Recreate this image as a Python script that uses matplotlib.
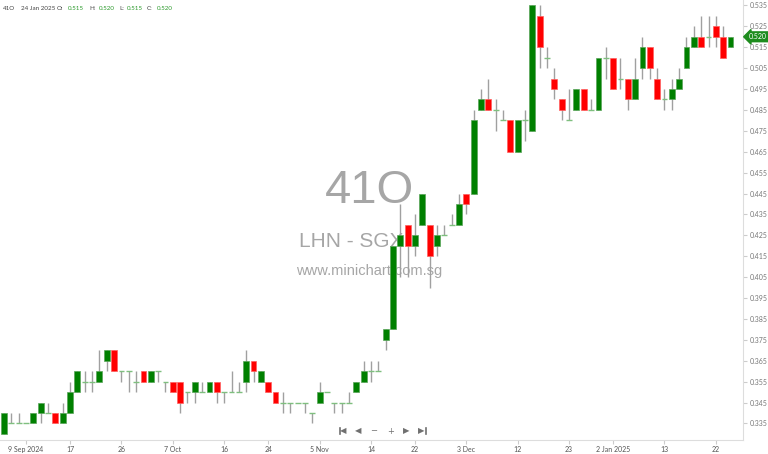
import numpy as np
import pandas as pd
import matplotlib
matplotlib.use('Agg')
import matplotlib.pyplot as plt
import matplotlib.transforms as mtrans
from matplotlib.lines import Line2D

# SGX trading days 4 Sep 2024 - 24 Jan 2025 (holidays removed)
holidays = ['2024-10-31', '2024-12-25', '2025-01-01']
dates = pd.bdate_range('2024-09-04', '2025-01-24')
dates = dates[~dates.isin(pd.to_datetime(holidays))]

opens = [0.330, 0.335, 0.335, 0.335, 0.335, 0.340, 0.340, 0.340, 0.335, 0.340,
         0.350, 0.355, 0.355, 0.355, 0.365, 0.370, 0.360, 0.360, 0.355, 0.360,
         0.355, 0.360, 0.355, 0.355, 0.355, 0.350, 0.350, 0.350, 0.350, 0.355,
         0.350, 0.350, 0.350, 0.355, 0.365, 0.355, 0.355, 0.350, 0.345, 0.345,
         0.345, 0.345, 0.340, 0.345, 0.350, 0.345, 0.345, 0.345, 0.350, 0.355,
         0.360, 0.360, 0.375, 0.380, 0.420, 0.430, 0.420, 0.430, 0.430, 0.420,
         0.425, 0.430, 0.430, 0.445, 0.445, 0.485, 0.490, 0.485, 0.480, 0.480,
         0.465, 0.480, 0.475, 0.530, 0.510, 0.500, 0.490, 0.480, 0.485, 0.495,
         0.485, 0.485, 0.510, 0.510, 0.500, 0.500, 0.490, 0.505, 0.515, 0.500,
         0.490, 0.490, 0.495, 0.505, 0.515, 0.520, 0.520, 0.525, 0.520, 0.515]
highs = [0.340, 0.340, 0.340, 0.335, 0.340, 0.345, 0.345, 0.340, 0.345, 0.355,
         0.360, 0.360, 0.360, 0.370, 0.370, 0.370, 0.360, 0.360, 0.360, 0.360,
         0.360, 0.360, 0.355, 0.355, 0.355, 0.350, 0.355, 0.355, 0.355, 0.355,
         0.350, 0.360, 0.355, 0.370, 0.365, 0.360, 0.355, 0.350, 0.350, 0.345,
         0.345, 0.345, 0.340, 0.355, 0.350, 0.345, 0.345, 0.350, 0.355, 0.365,
         0.365, 0.365, 0.380, 0.420, 0.440, 0.430, 0.435, 0.445, 0.430, 0.430,
         0.430, 0.435, 0.445, 0.445, 0.485, 0.495, 0.500, 0.490, 0.485, 0.480,
         0.480, 0.485, 0.535, 0.535, 0.515, 0.505, 0.490, 0.495, 0.495, 0.495,
         0.490, 0.510, 0.515, 0.510, 0.510, 0.500, 0.510, 0.520, 0.515, 0.505,
         0.495, 0.500, 0.505, 0.520, 0.525, 0.530, 0.530, 0.530, 0.525, 0.520]
lows = [0.330, 0.335, 0.335, 0.335, 0.335, 0.335, 0.340, 0.335, 0.335, 0.340,
        0.350, 0.350, 0.350, 0.355, 0.360, 0.360, 0.355, 0.350, 0.350, 0.355,
        0.355, 0.355, 0.350, 0.350, 0.340, 0.345, 0.345, 0.350, 0.350, 0.345,
        0.345, 0.350, 0.350, 0.350, 0.355, 0.355, 0.350, 0.345, 0.340, 0.340,
        0.345, 0.340, 0.335, 0.345, 0.350, 0.340, 0.340, 0.345, 0.350, 0.355,
        0.355, 0.360, 0.370, 0.380, 0.405, 0.405, 0.415, 0.430, 0.400, 0.415,
        0.425, 0.430, 0.430, 0.435, 0.445, 0.485, 0.485, 0.475, 0.480, 0.465,
        0.465, 0.470, 0.475, 0.505, 0.505, 0.490, 0.480, 0.480, 0.485, 0.485,
        0.485, 0.485, 0.500, 0.495, 0.495, 0.485, 0.490, 0.500, 0.500, 0.490,
        0.485, 0.485, 0.495, 0.505, 0.515, 0.515, 0.515, 0.515, 0.510, 0.515]
closes = [0.340, 0.335, 0.335, 0.335, 0.340, 0.345, 0.340, 0.335, 0.340, 0.350,
          0.360, 0.355, 0.355, 0.360, 0.370, 0.360, 0.360, 0.360, 0.355, 0.355,
          0.360, 0.360, 0.355, 0.350, 0.345, 0.350, 0.355, 0.350, 0.355, 0.350,
          0.350, 0.350, 0.350, 0.365, 0.360, 0.360, 0.350, 0.345, 0.345, 0.345,
          0.345, 0.345, 0.340, 0.350, 0.350, 0.345, 0.345, 0.345, 0.355, 0.360,
          0.360, 0.360, 0.380, 0.420, 0.425, 0.420, 0.425, 0.445, 0.415, 0.425,
          0.425, 0.430, 0.440, 0.440, 0.480, 0.490, 0.485, 0.485, 0.480, 0.465,
          0.480, 0.480, 0.535, 0.515, 0.510, 0.495, 0.485, 0.480, 0.495, 0.485,
          0.485, 0.510, 0.510, 0.495, 0.500, 0.490, 0.500, 0.515, 0.505, 0.490,
          0.490, 0.495, 0.500, 0.515, 0.520, 0.515, 0.520, 0.520, 0.510, 0.520]

tick_dates = ['2024-09-09', '2024-09-17', '2024-09-26', '2024-10-07', '2024-10-16',
              '2024-10-24', '2024-11-05', '2024-11-14', '2024-11-22', '2024-12-03',
              '2024-12-12', '2024-12-23', '2025-01-02', '2025-01-13', '2025-01-22']
tick_labels = ['9 Sep 2024', '17', '26', '7 Oct', '16', '24', '5 Nov', '14', '22',
               '3 Dec', '12', '23', '2 Jan 2025', '13', '22']
price_ticks = [0.335, 0.345, 0.355, 0.365, 0.375, 0.385, 0.395, 0.405, 0.415, 0.425,
               0.435, 0.445, 0.455, 0.465, 0.475, 0.485, 0.495, 0.505, 0.515, 0.525, 0.535]

df = pd.DataFrame({'o': opens, 'h': highs, 'l': lows, 'c': closes}, index=dates)
x = np.arange(len(df))

GREEN = '#008000'
RED = '#ff0000'
WICK = '#a0a0a0'
DOJI = '#7fbf7f'

plt.rcParams['font.family'] = ['Lato', 'DejaVu Sans']
fig = plt.figure(figsize=(7.68, 4.54), dpi=100)
ax = fig.add_axes([0, 14 / 454, 743 / 768, 440 / 454])

up = df['c'] > df['o']
down = df['c'] < df['o']
flat = df['c'] == df['o']

ax.vlines(x, df['l'], df['h'], color=WICK, lw=1, zorder=1)
ax.bar(x[up], (df['c'] - df['o'])[up], bottom=df['o'][up], width=0.8,
       color=GREEN, edgecolor='#5aa55a', lw=0.5, zorder=2)
ax.bar(x[down], (df['o'] - df['c'])[down], bottom=df['c'][down], width=0.8,
       color=RED, edgecolor='#ff6060', lw=0.5, zorder=2)
ax.hlines(df['c'][flat], x[flat] - 0.4, x[flat] + 0.4, color=DOJI, lw=1, zorder=2)

ax.set_xlim(-0.55, 100.7)
ax.set_ylim(0.3271, 0.5376)

# date ticks
pos = [df.index.get_loc(pd.Timestamp(d)) for d in tick_dates]
ax.set_xticks(pos)
ax.set_xticklabels(tick_labels, fontsize=5, color='#555555')
ax.tick_params(axis='x', length=3, color='#cccccc', pad=1.5)

ax.yaxis.tick_right()
ax.set_yticks(price_ticks)
ax.set_yticklabels([f'{p:.3f}' for p in price_ticks], fontsize=5, color='#777777')
ax.tick_params(axis='y', length=3, color='#cccccc', pad=1.5)

for s in ['top', 'left']:
    ax.spines[s].set_visible(False)
ax.spines['right'].set_color('#dddddd')
ax.spines['bottom'].set_color('#dddddd')

# watermark
WM = ['Liberation Sans', 'DejaVu Sans']
ax.text(0.497, 0.567, '41O', transform=ax.transAxes, fontsize=34, color='#a6a6a6',
        family=WM, ha='center', va='center', zorder=0)
ax.text(0.472, 0.452, 'LHN - SGX', transform=ax.transAxes, fontsize=15, color='#a6a6a6',
        family=WM, ha='center', va='center', zorder=0)
ax.text(0.4966, 0.385, 'www.minichart.com.sg', transform=ax.transAxes, fontsize=10.5,
        color='#a6a6a6', family=WM, ha='center', va='center', zorder=0)

# navigation buttons (first / prev / zoom out / zoom in / next / last)
NAV_C = '#707070'
ny = 1 - 431 / 454
for xp, sym in zip([343.5, 358, 374, 390.5, 406.5, 421.5], ['◀', '◀', '−', '+', '▶', '▶']):
    fig.text(xp / 768, ny, sym, fontsize=6, color=NAV_C, family='DejaVu Sans',
             ha='center', va='center')
for bx in [339.5, 425.8]:
    fig.add_artist(Line2D([bx / 768, bx / 768], [ny - 3 / 454, ny + 3 / 454],
                          color=NAV_C, lw=1.2, transform=fig.transFigure))

# header
last = df.iloc[-1]
parts = [('41O', '#444444', 3), ('24 Jan 2025', '#444444', 21), ('O:', '#444444', 57),
         (f"{last['o']:.3f}", '#2e9b2e', 68), ('H:', '#444444', 89),
         (f"{last['h']:.3f}", '#2e9b2e', 99), ('L:', '#444444', 119),
         (f"{last['l']:.3f}", '#2e9b2e', 127), ('C:', '#444444', 147),
         (f"{last['c']:.3f}", '#2e9b2e', 157)]
for t, col, px in parts:
    fig.text(px / 768, 1 - 9 / 454, t, fontsize=4.5, color=col, ha='left', va='center')

# last price tag
tr = mtrans.blended_transform_factory(ax.transAxes, ax.transData)
ax.text(1.008, last['c'], f"{last['c']:.3f}", transform=tr, fontsize=5, color='white',
        ha='left', va='center', clip_on=False,
        bbox=dict(boxstyle='larrow,pad=0.2', fc='#1e8c1e', ec='#1e8c1e'))

plt.savefig('out.png', dpi=100)
